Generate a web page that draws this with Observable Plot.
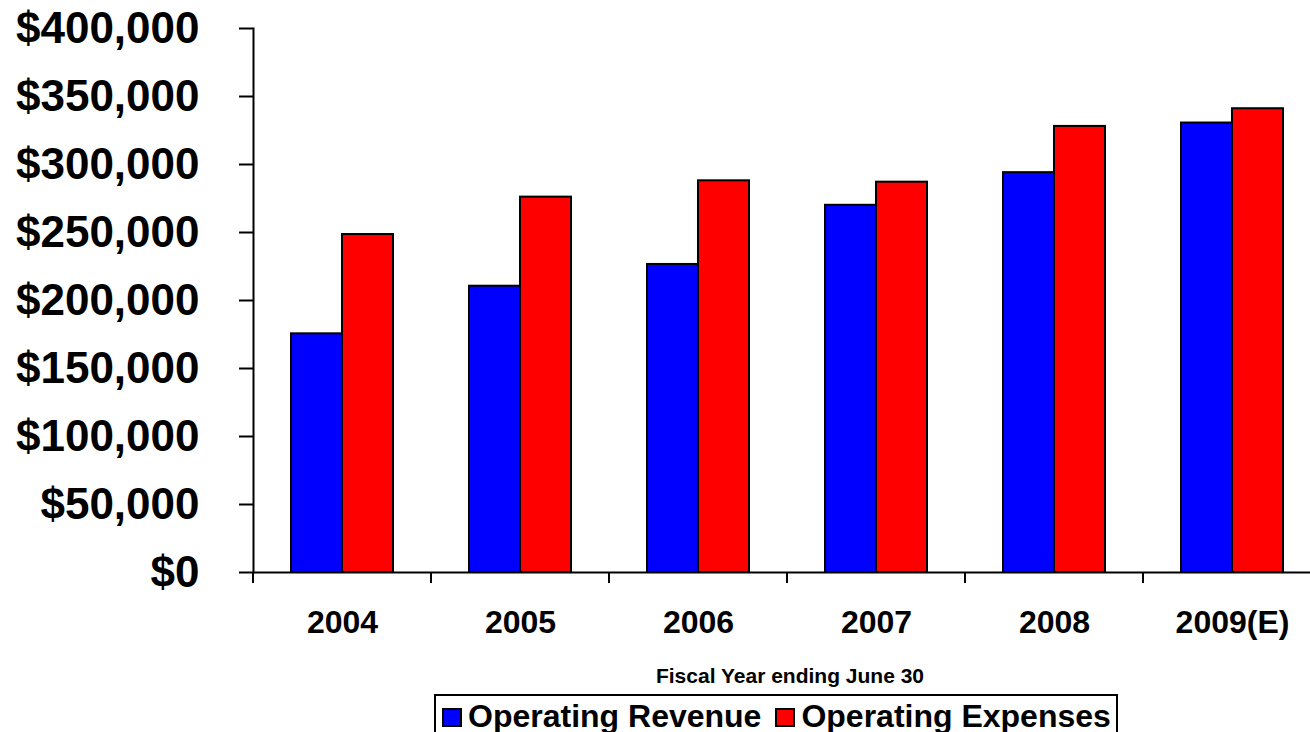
<!DOCTYPE html>
<html>
<head>
<meta charset="utf-8">
<script src="https://cdn.jsdelivr.net/npm/d3@7"></script>
<script src="https://cdn.jsdelivr.net/npm/@observablehq/plot@0.6"></script>
<style>
  html, body { margin: 0; padding: 0; background: #fff; }
  body {
    width: 1310px; height: 732px; overflow: hidden; position: relative;
    font-family: "Liberation Sans", Arial, sans-serif; font-weight: bold; color: #000;
  }
  #chart { position: absolute; left: 0; top: 0; }
  #chart svg { max-width: none; }
  #caption {
    position: absolute; left: 490px; width: 600px; top: 664px;
    text-align: center; font-size: 21px; line-height: 24px;
  }
  #legend {
    position: absolute; left: 434px; top: 694px; width: 680px; height: 50px;
    border: 2px solid #000; box-sizing: content-box;
    display: flex; align-items: flex-start;
    font-size: 32px; line-height: 40px; white-space: nowrap;
  }
  .item { display: flex; align-items: center; }
  .item:first-child { margin-left: 6px; }
  .item + .item { margin-left: 14px; }
  .swatch {
    display: inline-block; width: 16px; height: 15px;
    border: 2px solid #000; margin-right: 6px; margin-top: 2px;
  }
</style>
</head>
<body>
<div id="chart"></div>
<div id="caption"></div>
<div id="legend"></div>
<script>
// Fiscal years (the last one is an estimate)
const years = ["2004", "2005", "2006", "2007", "2008", "2009(E)"];
const seriesNames = ["Operating Revenue", "Operating Expenses"];
const seriesColors = ["#0000ff", "#ff0000"];
const revenue = [175500, 210500, 226500, 270000, 294000, 330500];
const expenses = [248500, 276000, 288000, 287000, 328000, 341000];
const yTicks = [0, 50000, 100000, 150000, 200000, 250000, 300000, 350000, 400000];
const xTitle = "Fiscal Year ending June 30";

// Long-format rows for the grouped bars
const rows = years.flatMap((year, i) => [
  {year, series: seriesNames[0], value: revenue[i]},
  {year, series: seriesNames[1], value: expenses[i]}
]);

const money = d => "$" + d3.format(",")(d);

const chart = Plot.plot({
  width: 1322,
  height: 650,
  marginLeft: 253,
  marginRight: 1,
  marginTop: 28,
  marginBottom: 78,
  style: {
    fontFamily: '"Liberation Sans", Arial, sans-serif',
    fontWeight: "bold",
    color: "#000",
    background: "#fff",
    overflow: "visible"
  },
  fx: {domain: years, padding: 0, label: null},
  x: {domain: seriesNames, paddingInner: 0, paddingOuter: 0.745, axis: null},
  y: {domain: [0, 400000], label: null},
  color: {domain: seriesNames, range: seriesColors},
  marks: [
    Plot.barY(rows, {
      fx: "year", x: "series", y: "value", fill: "series",
      stroke: "#000", strokeWidth: 2
    }),
    Plot.ruleY([0], {stroke: "#000", strokeWidth: 2}),
    Plot.frame({anchor: "left", facetAnchor: "left", stroke: "#000", strokeWidth: 2}),
    Plot.axisY(yTicks, {
      tickFormat: money, tickSize: 14, tickPadding: 40,
      fontSize: 44, strokeWidth: 2, label: null
    }),
    Plot.axisFx({anchor: "bottom", tickSize: 0, tickPadding: 38, fontSize: 32, label: null})
  ]
});

// Category-boundary ticks below the baseline, placed with the facet scale
const fx = chart.scale("fx");
const y0 = chart.scale("y").apply(0);
const bounds = years.map(d => fx.apply(d)).concat([fx.apply(years[years.length - 1]) + fx.step]);
d3.select(chart).append("g")
  .selectAll("line").data(bounds).join("line")
  .attr("x1", d => d).attr("x2", d => d)
  .attr("y1", y0).attr("y2", y0 + 11)
  .attr("stroke", "#000").attr("stroke-width", 2);

document.getElementById("chart").append(chart);
document.getElementById("caption").textContent = xTitle;

// Legend boxed below the title
const legend = d3.select("#legend");
seriesNames.forEach((name, i) => {
  const item = legend.append("div").attr("class", "item");
  item.append("span").attr("class", "swatch").style("background", seriesColors[i]);
  item.append("span").text(name);
});
</script>
</body>
</html>
